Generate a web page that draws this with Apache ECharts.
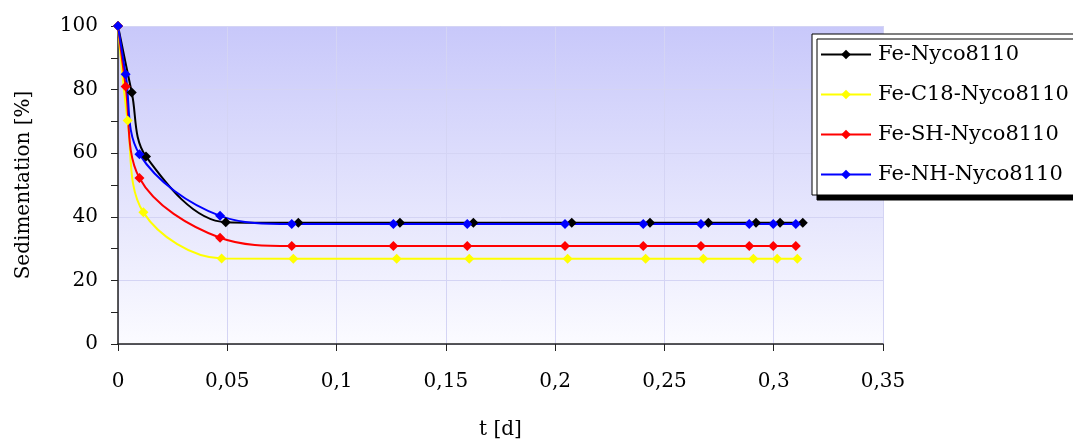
<!DOCTYPE html>
<html>
<head>
<meta charset="utf-8">
<script src="https://cdn.jsdelivr.net/npm/echarts@6/dist/echarts.min.js"></script>
<style>html,body{margin:0;padding:0;background:#fff;}#c{width:1073px;height:443px;}</style>
</head>
<body>
<div id="c"></div>
<script>
const seriesNames = ['Fe-Nyco8110', 'Fe-C18-Nyco8110', 'Fe-SH-Nyco8110', 'Fe-NH-Nyco8110'];
const seriesColors = ['#000000', '#ffff00', '#ff0000', '#0000ff'];

const tBlack = [0, 0.0063, 0.0128, 0.0493, 0.0825, 0.1290, 0.1626, 0.2076, 0.2434, 0.2701, 0.2919, 0.3029, 0.3133];
const vBlack = [100, 79.1, 59.0, 38.3, 38.1, 38.1, 38.1, 38.1, 38.1, 38.1, 38.1, 38.1, 38.1];

const tYellow = [0, 0.0044, 0.0116, 0.0474, 0.0802, 0.1275, 0.1607, 0.2057, 0.2414, 0.2678, 0.2907, 0.3016, 0.3108];
const vYellow = [100, 70.3, 41.4, 26.9, 26.8, 26.8, 26.8, 26.8, 26.8, 26.8, 26.8, 26.8, 26.8];

const tRed = [0, 0.0035, 0.0098, 0.0467, 0.0795, 0.1260, 0.1598, 0.2045, 0.2403, 0.2667, 0.2888, 0.2998, 0.3101];
const vRed = [100, 81.0, 52.2, 33.4, 30.8, 30.8, 30.8, 30.8, 30.8, 30.8, 30.8, 30.8, 30.8];

const tBlue = [0, 0.0035, 0.0098, 0.0467, 0.0795, 0.1260, 0.1598, 0.2045, 0.2403, 0.2667, 0.2888, 0.2998, 0.3101];
const vBlue = [100, 84.8, 59.7, 40.3, 37.7, 37.7, 37.7, 37.7, 37.7, 37.7, 37.7, 37.7, 37.7];

const xTicks = ['0', '0,05', '0,1', '0,15', '0,2', '0,25', '0,3', '0,35'];

const allT = [tBlack, tYellow, tRed, tBlue];
const allV = [vBlack, vYellow, vRed, vBlue];

const font = 'DejaVu Serif';
const chart = echarts.init(document.getElementById('c'), null, {renderer: 'canvas'});
chart.setOption({
  animation: false,
  backgroundColor: '#ffffff',
  grid: {
    left: 118, right: 190, top: 26, bottom: 99,
    containLabel: false, outerBoundsMode: 'none',
    show: true, borderWidth: 0,
    backgroundColor: new echarts.graphic.LinearGradient(0, 0, 0, 1, [
      {offset: 0, color: '#c8c8fa'},
      {offset: 1, color: '#fbfbff'}
    ])
  },
  legend: {
    orient: 'vertical',
    left: 812, top: 34,
    padding: [10, 75, 10, 8],
    itemGap: 19,
    itemWidth: 50, itemHeight: 12,
    backgroundColor: '#ffffff',
    borderColor: '#000000', borderWidth: 1, borderRadius: 0,
    shadowColor: '#000000', shadowBlur: 0, shadowOffsetX: 5, shadowOffsetY: 5,
    textStyle: {fontFamily: font, fontSize: 21, color: '#000', padding: [0, 0, 0, 2]},
    data: seriesNames
  },
  xAxis: {
    type: 'value', min: 0, max: 0.35, interval: 0.05,
    name: 't [d]', nameLocation: 'middle', nameGap: 76,
    nameTextStyle: {fontFamily: font, fontSize: 20, color: '#000'},
    axisLine: {show: true, lineStyle: {color: '#222', width: 1.5}},
    axisTick: {show: true, inside: false, length: 7, lineStyle: {color: '#222'}},
    axisLabel: {
      fontFamily: font, fontSize: 20, color: '#000', margin: 28,
      formatter: function (v) { return xTicks[Math.round(v / 0.05)]; }
    },
    splitLine: {show: true, lineStyle: {color: '#d4d4f4', width: 1}}
  },
  yAxis: {
    type: 'value', min: 0, max: 100, interval: 20,
    name: 'Sedimentation [%]', nameLocation: 'middle', nameGap: 84,
    nameTextStyle: {fontFamily: font, fontSize: 20, color: '#000'},
    axisLine: {show: true, lineStyle: {color: '#222', width: 1.5}},
    axisTick: {show: true, inside: false, length: 7, lineStyle: {color: '#222'}},
    minorTick: {show: true, splitNumber: 2, length: 7, lineStyle: {color: '#222'}},
    axisLabel: {fontFamily: font, fontSize: 20, color: '#000', margin: 20},
    splitLine: {show: true, lineStyle: {color: '#d4d4f4', width: 1}}
  },
  series: seriesNames.map(function (n, i) {
    return {
      name: n, type: 'line', smooth: 0.35,
      data: allT[i].map(function (t, j) { return [t, allV[i][j]]; }),
      symbol: 'diamond', symbolSize: 10,
      itemStyle: {color: seriesColors[i]},
      lineStyle: {color: seriesColors[i], width: 2}
    };
  })
});
</script>
</body>
</html>
